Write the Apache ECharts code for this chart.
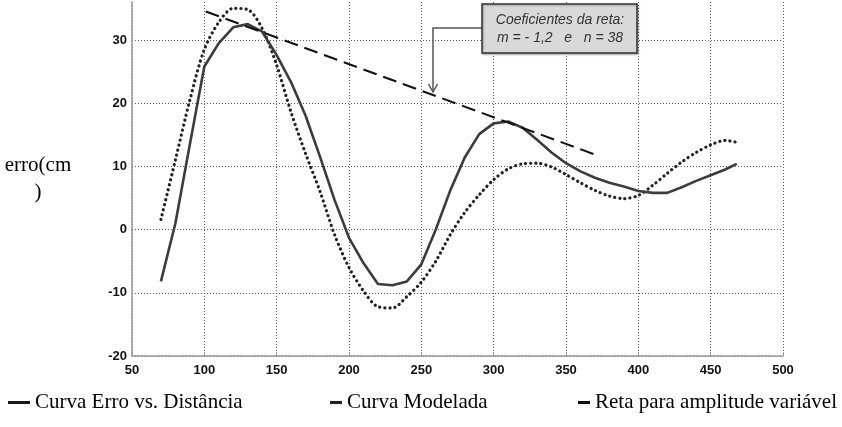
<!DOCTYPE html>
<html>
<head>
<meta charset="utf-8">
<script src="https://cdn.jsdelivr.net/npm/echarts@6/dist/echarts.min.js"></script>
<style>html,body{margin:0;padding:0;background:#fff;}#c{width:842px;height:427px;}</style>
</head>
<body>
<div id="c"></div>
<script>
// distance (x) sample points
const distX = [70, 80, 90, 100, 110, 120, 130, 140, 150, 160, 170, 180, 190, 200, 210, 220, 230, 240, 250, 260, 270, 280, 290, 300, 310, 320, 330, 340, 350, 360, 370, 380, 390, 400, 410, 420, 430, 440, 450, 460, 468];
// Curva Erro vs. Distância
const erroVals = [-8.2, 1, 13.5, 25.8, 29.5, 32, 32.5, 31.3, 27.6, 23.3, 18, 11.5, 4.7, -1.3, -5.3, -8.6, -8.8, -8.2, -5.5, 0, 6.2, 11.4, 15.1, 16.8, 17.1, 16.1, 14.2, 12.2, 10.5, 9.2, 8.2, 7.4, 6.8, 6.1, 5.8, 5.8, 6.7, 7.7, 8.6, 9.5, 10.4];
// Curva Modelada
const modVals = [1.6, 11, 20.5, 28.5, 32.8, 35, 34.8, 31.8, 26, 18.5, 12, 6, -0.8, -6, -9.7, -12.2, -12.4, -10.6, -8.3, -5, -0.8, 2.7, 5.5, 7.9, 9.6, 10.4, 10.5, 9.9, 8.7, 7.4, 6.2, 5.3, 4.9, 5.4, 7, 8.9, 10.7, 12.2, 13.4, 14.1, 13.8];
// Reta para amplitude variável (end points)
const retaX = [101, 372];
const retaY = [34.5, 11.7];
// axis ticks
const xTicks = {min: 50, max: 500, step: 50};
const yTicks = {min: -20, max: 36, step: 10};

const seriesNames = ['Curva Erro vs. Distância', 'Curva Modelada', 'Reta para amplitude variável'];

const chart = echarts.init(document.getElementById('c'), null, {renderer: 'canvas'});

const gridLine = {show: true, lineStyle: {color: '#5e5e5e', width: 1, type: [1, 2]}};
const legendText = {fontFamily: 'Liberation Serif', fontSize: 21, color: '#000'};

chart.setOption({
  backgroundColor: '#fff',
  animation: false,
  grid: {left: 132, right: 59, top: 2, bottom: 71},
  xAxis: {
    type: 'value', min: xTicks.min, max: xTicks.max, interval: xTicks.step,
    axisLine: {onZero: false, lineStyle: {color: '#999', width: 1.5}},
    axisTick: {show: true, inside: true, length: 4, lineStyle: {color: '#999'}},
    axisLabel: {fontFamily: 'Liberation Sans', fontWeight: 'bold', fontSize: 13, color: '#111', margin: 8},
    splitLine: gridLine
  },
  yAxis: {
    type: 'value', min: yTicks.min, max: yTicks.max, interval: yTicks.step,
    name: 'erro(cm\n)', nameLocation: 'middle', nameRotate: 0, nameGap: 94,
    nameTextStyle: {fontFamily: 'Liberation Serif', fontSize: 21, color: '#000', align: 'center', lineHeight: 27},
    axisLine: {show: true, onZero: false, lineStyle: {color: '#999', width: 1.5}},
    axisTick: {show: false},
    axisLabel: {fontFamily: 'Liberation Sans', fontWeight: 'bold', fontSize: 13, color: '#111', margin: 5,
      formatter: v => (v % 10 === 0 ? String(v) : '')},
    splitLine: Object.assign({showMaxLine: false}, gridLine)
  },
  legend: [
    {data: [{name: seriesNames[0], icon: 'rect'}], left: 8, top: 392, itemWidth: 22, itemHeight: 3, itemGap: 0, textStyle: legendText, padding: 0},
    {data: [{name: seriesNames[1], icon: 'rect'}], left: 330, top: 392, itemWidth: 12, itemHeight: 3, itemGap: 0, textStyle: legendText, padding: 0},
    {data: [{name: seriesNames[2], icon: 'rect'}], left: 578, top: 392, itemWidth: 12, itemHeight: 3, itemGap: 0, textStyle: legendText, padding: 0}
  ],
  series: [
    {
      name: seriesNames[0], type: 'line', symbol: 'none',
      data: distX.map((x, i) => [x, erroVals[i]]),
      lineStyle: {color: '#3c3c3c', width: 2.6}, itemStyle: {color: '#1a1a1a'}, z: 3
    },
    {
      name: seriesNames[1], type: 'line', symbol: 'none', smooth: 0.3,
      data: distX.map((x, i) => [x, modVals[i]]),
      lineStyle: {color: '#222', width: 3.2, type: [0.1, 5], cap: 'round'}, itemStyle: {color: '#222'}, z: 2
    },
    {
      name: seriesNames[2], type: 'line', symbol: 'none',
      data: retaX.map((x, i) => [x, retaY[i]]),
      lineStyle: {color: '#111', width: 2, type: [14, 7]}, itemStyle: {color: '#111'}, z: 4
    }
  ],
  graphic: [
    {type: 'polyline', shape: {points: [[482, 28], [433, 28], [433, 92]]}, style: {stroke: '#555', lineWidth: 1.5, fill: null}, z: 10},
    {type: 'polyline', shape: {points: [[428.5, 84], [433, 92], [437.5, 84]]}, style: {stroke: '#555', lineWidth: 1.5, fill: null}, z: 10},
    {type: 'rect', shape: {x: 482, y: 4, width: 155, height: 49}, style: {fill: '#d9d9d9', stroke: '#333', lineWidth: 1.5, shadowBlur: 2, shadowColor: 'rgba(0,0,0,0.3)', shadowOffsetX: 1, shadowOffsetY: 1}, z: 10},
    {type: 'text', x: 560, y: 20, style: {text: 'Coeficientes da reta:', font: 'italic 14px "Liberation Sans"', fill: '#333', align: 'center', verticalAlign: 'middle'}, z: 11},
    {type: 'text', x: 560, y: 38, style: {text: 'm = - 1,2   e   n = 38', font: 'italic 14px "Liberation Sans"', fill: '#333', align: 'center', verticalAlign: 'middle'}, z: 11}
  ]
});
</script>
</body>
</html>
